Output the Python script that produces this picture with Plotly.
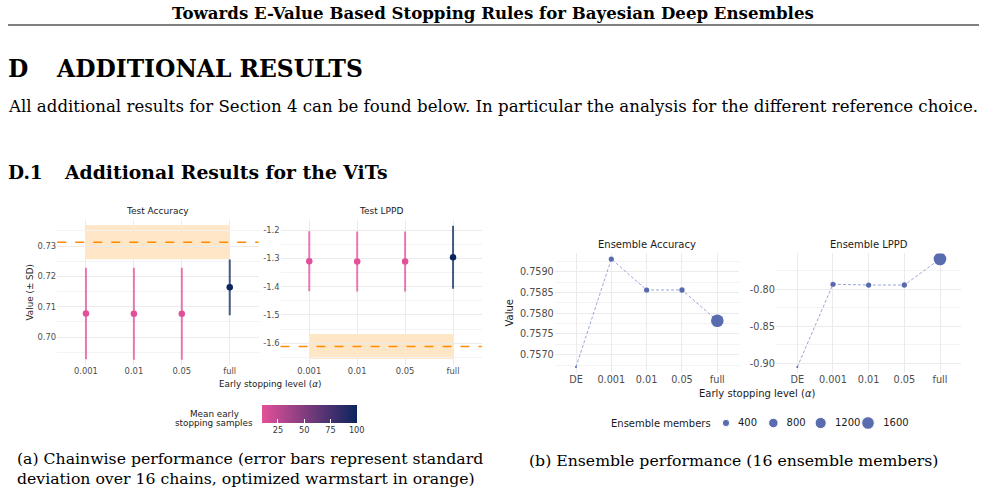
import numpy as np
import plotly.graph_objects as go
from plotly.colors import sample_colorscale

W, H = 987, 496
def fx(p): return p / W
def fy(p): return 1 - p / H

# ---------------- data ----------------
chain_levels = ["0.001", "0.01", "0.05", "full"]
mean_es_samples = [9.6, 9.8, 10.4, 100]
acc_mean = [0.7078, 0.7077, 0.7077, 0.7164]
acc_sd = [0.0151, 0.0152, 0.0152, 0.0092]
lppd_mean = [-1.310, -1.311, -1.311, -1.296]
lppd_sd = [0.106, 0.106, 0.106, 0.111]
warm_acc_mean, warm_acc_sd = 0.7313, 0.0056
warm_lppd_mean, warm_lppd_sd = -1.611, 0.044

ens_levels = ["DE", "0.001", "0.01", "0.05", "full"]
ens_members = [16, 154, 157, 166, 1600]
ens_acc = [0.756704, 0.759306, 0.758559, 0.758559, 0.757819]
ens_lppd = [-0.9050, -0.7932, -0.7942, -0.7942, -0.7590]
size_legend_vals = [400, 800, 1200, 1600]

acc_ticks = [0.70, 0.71, 0.72, 0.73]
lppd_ticks = [-1.6, -1.5, -1.4, -1.3, -1.2]
ens_acc_ticks = [0.7570, 0.7575, 0.7580, 0.7585, 0.7590]
ens_lppd_ticks = [-0.90, -0.85, -0.80]
cbar_ticks = [25, 50, 75, 100]

# ---------------- styles ----------------
SANS = "DejaVu Sans"
SERIF = "DejaVu Serif"
cscale = [[0, "#E2509A"], [1, "#0B255E"]]
cmin, cmax = min(mean_es_samples), max(mean_es_samples)
ORANGE = "#FF8C00"
PT_BLUE = "#4A60A8"
GRID = "#EBEBEB"
MINOR = "#F3F3F3"

def rgba(rgbstr, a):
    v = rgbstr[rgbstr.index("(") + 1:rgbstr.index(")")].split(",")
    return "rgba(%s,%s,%s,%s)" % (v[0].strip(), v[1].strip(), v[2].strip(), a)

lo, hi = min(ens_members), max(ens_members)
def size_px(m):
    return 2.1 * (1 + 5 * np.sqrt(max(m - lo, 0) / (hi - lo)))

def minor_vals(ticks):
    step = ticks[1] - ticks[0]
    return [t - step / 2 for t in ticks] + [ticks[-1] + step / 2]

def fmt(v, d):
    return ("%." + str(d) + "f") % v

fig = go.Figure()

# chainwise panels
for (means, sds, xa, ya) in [(acc_mean, acc_sd, "x", "y"), (lppd_mean, lppd_sd, "x2", "y2")]:
    for i, lvl in enumerate(chain_levels):
        c = sample_colorscale(cscale, [(mean_es_samples[i] - cmin) / (cmax - cmin)])[0]
        fig.add_trace(go.Scatter(
            x=[lvl], y=[means[i]], mode="markers",
            marker=dict(size=1, opacity=0),
            error_y=dict(type="data", array=[sds[i]], color=rgba(c, 0.75), thickness=2, width=0),
            xaxis=xa, yaxis=ya, showlegend=False, hoverinfo="skip"))
    fig.add_trace(go.Scatter(
        x=chain_levels, y=means, mode="markers",
        marker=dict(size=6.5, color=mean_es_samples, coloraxis="coloraxis"),
        xaxis=xa, yaxis=ya, showlegend=False))

# ensemble panels
for (vals, xa, ya) in [(ens_acc, "x3", "y3"), (ens_lppd, "x4", "y4")]:
    fig.add_trace(go.Scatter(
        x=ens_levels, y=vals, mode="lines",
        line=dict(color="#8C9BD3", width=0.9, dash="3px,2px"),
        xaxis=xa, yaxis=ya, showlegend=False))
    fig.add_trace(go.Scatter(
        x=ens_levels, y=vals, mode="markers",
        marker=dict(size=[size_px(m) for m in ens_members], color=PT_BLUE, opacity=0.92,
                    line=dict(width=0)),
        xaxis=xa, yaxis=ya, showlegend=False))

# size legend drawn on a hidden axis
fig.add_trace(go.Scatter(
    x=size_legend_vals, y=[0] * len(size_legend_vals), mode="markers+text",
    marker=dict(size=[size_px(m) for m in size_legend_vals], color=PT_BLUE, opacity=0.92),
    text=["\u00a0\u00a0" + str(v) for v in size_legend_vals], textposition="middle right",
    textfont=dict(family=SANS, size=10, color="#1A1A1A"),
    cliponaxis=False, xaxis="x5", yaxis="y5", showlegend=False, hoverinfo="skip"))

# ---------------- axes ----------------
def xcat(dom, cats, fs):
    return dict(domain=[fx(dom[0]), fx(dom[1])], type="category",
                categoryorder="array", categoryarray=cats,
                range=[-0.6, len(cats) - 0.4], showgrid=True, gridcolor=GRID, gridwidth=1,
                zeroline=False, showline=False, ticks="",
                tickfont=dict(family=SANS, size=fs, color="#4D4D4D"), fixedrange=True)

def ynum(dom, rng, ticks, dec, fs):
    return dict(domain=[fy(dom[1]), fy(dom[0])], range=rng,
                tickmode="array", tickvals=ticks, ticktext=[fmt(t, dec) for t in ticks],
                showgrid=True, gridcolor=GRID, gridwidth=1, zeroline=False, showline=False,
                ticks="", tickfont=dict(family=SANS, size=fs, color="#4D4D4D"),
                minor=dict(tickmode="array", tickvals=minor_vals(ticks), showgrid=True,
                           gridcolor=MINOR, gridwidth=1),
                fixedrange=True)

fig.update_layout(
    width=W, height=H, margin=dict(l=0, r=0, t=0, b=0),
    paper_bgcolor="white", plot_bgcolor="white", showlegend=False,
    xaxis=dict(xcat((57.2, 258.5), chain_levels, 8.4), anchor="y"),
    yaxis=dict(ynum((220, 365), [0.6908, 0.7386], acc_ticks, 2, 8.4), anchor="x"),
    xaxis2=dict(xcat((280.5, 481.8), chain_levels, 8.4), anchor="y2"),
    yaxis2=dict(ynum((220, 365), [-1.6766, -1.1647], lppd_ticks, 1, 8.4), anchor="x2"),
    xaxis3=dict(xcat((554.8, 738.5), ens_levels, 9.7), anchor="y3"),
    yaxis3=dict(ynum((253.4, 372.5), [0.756571, 0.759441], ens_acc_ticks, 4, 9.7), anchor="x3"),
    xaxis4=dict(xcat((775.9, 961.4), ens_levels, 9.7), anchor="y4"),
    yaxis4=dict(ynum((253.4, 372.5), [-0.91243, -0.75149], ens_lppd_ticks, 2, 9.7), anchor="x4"),
    xaxis5=dict(domain=[fx(726), fx(868)], range=[size_legend_vals[0], size_legend_vals[-1]],
                visible=False, anchor="y5", fixedrange=True),
    yaxis5=dict(domain=[fy(433), fy(413)], range=[-1, 1], visible=False, anchor="x5",
                fixedrange=True),
    coloraxis=dict(
        colorscale=cscale, cmin=cmin, cmax=cmax,
        colorbar=dict(orientation="h", x=fx(261.7), xanchor="left", y=fy(405), yanchor="top",
                      len=95, lenmode="pixels", thickness=18, thicknessmode="pixels",
                      xpad=0, ypad=0, outlinewidth=0, tickvals=cbar_ticks,
                      ticks="inside", ticklen=4, tickcolor="white", tickwidth=1,
                      tickfont=dict(family=SANS, size=8.2, color="#333333"),
                      title=dict(text=""))),
)

# ---------------- shapes ----------------
shapes = []
for (m, s, xa, ya) in [(warm_acc_mean, warm_acc_sd, "x", "y"),
                       (warm_lppd_mean, warm_lppd_sd, "x2", "y2")]:
    shapes.append(dict(type="rect", xref=xa, yref=ya, x0=0, x1=len(chain_levels) - 1,
                       y0=m - s, y1=m + s, fillcolor="rgba(255,140,0,0.22)",
                       line=dict(width=0), layer="below"))
    shapes.append(dict(type="line", xref=xa + " domain", yref=ya, x0=0, x1=1, y0=m, y1=m,
                       line=dict(color=ORANGE, width=1.5, dash="dash"), layer="above"))
# page rule under running head
shapes.append(dict(type="line", xref="paper", yref="paper", x0=fx(8), x1=fx(979),
                   y0=fy(25), y1=fy(25), line=dict(color="black", width=1)))
fig.update_layout(shapes=shapes)

# ---------------- text ----------------
ann = []
def text(t, x, y, size, family=SANS, color="#1A1A1A", xanchor="center", angle=0, bold=False):
    if bold:
        t = "<b>" + t + "</b>"
    ann.append(dict(text=t, x=fx(x), y=fy(y), xref="paper", yref="paper", showarrow=False,
                    xanchor=xanchor, yanchor="middle", textangle=angle, align="left",
                    font=dict(family=family, size=size, color=color)))

# page text
text("Towards E-Value Based Stopping Rules for Bayesian Deep Ensembles", 493, 13, 16.6,
     SERIF, "black", bold=True)
text("D", 6, 69, 23.4, SERIF, "black", "left", bold=True)
text("ADDITIONAL RESULTS", 54, 69, 23.4, SERIF, "black", "left", bold=True)
text("All additional results for Section 4 can be found below. In particular the analysis "
     "for the different reference choice.", 6, 107, 16.6, SERIF, "black", "left")
text("D.1", 6, 172, 18.5, SERIF, "black", "left", bold=True)
text("Additional Results for the ViTs", 62, 172, 18.8, SERIF, "black", "left", bold=True)
text("(a) Chainwise performance (error bars represent standard<br>"
     "deviation over 16 chains, optimized warmstart in orange)", 15, 468.5, 15.7, SERIF,
     "black", "left")
text("(b) Ensemble performance (16 ensemble members)", 527, 460, 15.7, SERIF, "black", "left")

# chart text (a)
text("Test Accuracy", 157.8, 211, 9)
text("Test LPPD", 381.2, 211, 9)
text("Value (± SD)", 29, 292.5, 8.8, angle=-90)
text("Early stopping level (<i>α</i>)", 269.5, 384, 8.8)
text("Mean early", 214, 413.5, 8.8)
text("stopping samples", 214, 422.5, 8.8)
# chart text (b)
text("Ensemble Accuracy", 646.6, 245, 10)
text("Ensemble LPPD", 868.6, 245, 10)
text("Value", 508.5, 313, 10, angle=-90)
text("Early stopping level (<i>α</i>)", 757, 393, 10)
text("Ensemble members", 609, 423, 10, xanchor="left")
fig.update_layout(annotations=ann)

fig.write_html("out.html")
